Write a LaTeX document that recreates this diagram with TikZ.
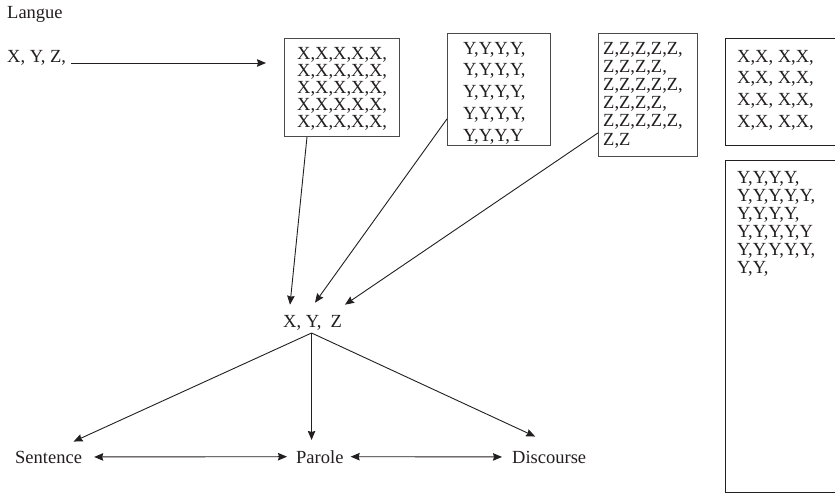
\documentclass[tikz,border=0pt]{standalone}
\usepackage{fontspec}
\setmainfont{Liberation Serif}
\usetikzlibrary{arrows.meta,calc}
\definecolor{ink}{HTML}{231F20}
\definecolor{frame}{HTML}{4A4A4A}
\begin{document}
\begin{tikzpicture}[x=1pt,y=-1pt,
  every node/.style={inner sep=0pt, text=ink, font=\fontsize{18.5}{21}\selectfont},
  box/.style={draw=frame, line width=0.9pt, inner sep=0pt, anchor=north west},
  heavybox/.style={draw=ink, line width=1.3pt, inner sep=0pt, anchor=north west},
  lines/.style={anchor=north west, align=left},
  tip/.style={Stealth[length=9pt,width=7.5pt,inset=1pt]},
  arr/.style={draw=ink, line width=0.9pt, -{Stealth[length=9pt,width=7.5pt,inset=1pt]}},
  dbl/.style={draw=ink, line width=0.9pt, {Stealth[length=9pt,width=7.5pt,inset=1pt]}-{Stealth[length=9pt,width=7.5pt,inset=1pt]}}]
\clip (0,0) rectangle (835,497);
\fill[white] (0,0) rectangle (835,497);

% headings on the left
\node[anchor=base west] (langue) at (7,19) {Langue};
\node[anchor=base west] (lbl) at (7,63) {X, Y, Z,};

% boxes of the top row
\node[box, minimum width=115pt, minimum height=98pt] (xbox) at (284,38) {};
\node[box, minimum width=103pt, minimum height=112pt] (ybox) at (447,33) {};
\node[box, minimum width=99pt, minimum height=123pt] (zbox) at (598,33) {};
\node[heavybox, minimum width=140pt, minimum height=107pt] (rxbox) at (725,38) {};
\node[heavybox, minimum width=140pt, minimum height=332pt] (rybox) at (725,160) {};

% box contents
\node[lines, font=\fontsize{18.5}{17}\selectfont] (xtext) at (297,46.8)
  {X,X,X,X,X,\\X,X,X,X,X,\\X,X,X,X,X,\\X,X,X,X,X,\\X,X,X,X,X,};
\node[lines, font=\fontsize{18.5}{21.75}\selectfont] (ytext) at (463,41.8)
  {Y,Y,Y,Y,\\Y,Y,Y,Y,\\Y,Y,Y,Y,\\Y,Y,Y,Y,\\Y,Y,Y,Y};
\node[lines, font=\fontsize{18.5}{18.2}\selectfont] (ztext) at (603,41.8)
  {Z,Z,Z,Z,Z,\\Z,Z,Z,Z,\\Z,Z,Z,Z,Z,\\Z,Z,Z,Z,\\Z,Z,Z,Z,Z,\\Z,Z};
\node[lines, font=\fontsize{18.5}{21.7}\selectfont] (rxtext) at (737,49.8)
  {X,X, X,X,\\X,X, X,X,\\X,X, X,X,\\X,X, X,X,};
\node[lines, font=\fontsize{18.5}{18}\selectfont] (rytext) at (737,170.8)
  {Y,Y,Y,Y,\\Y,Y,Y,Y,Y,\\Y,Y,Y,Y,\\Y,Y,Y,Y,Y\\Y,Y,Y,Y,Y,\\Y,Y,};

% arrow from the heading to the first box
\draw[arr] ($(lbl.base east)+(5,0)$) -- ($(lbl.base -| xbox.west)+(-18,0)$);

% combined node
\node[anchor=base west] (xyz) at (283,327) {X, Y,\ \ Z};
\draw[arr] ($(xbox.south west)+(23,0)$) -- ($(xyz.north west)+(7,-10)$);
\draw[arr] ($(ybox.south west)+(0,-27)$) -- ($(xyz.north west)+(32,-12)$);
\draw[arr] ($(zbox.south west)+(0,-24)$) -- ($(xyz.north west)+(62,-10)$);

% bottom row
\node[anchor=base west] (sent) at (15,463) {Sentence};
\node[anchor=base west] (parole) at (296,463) {Parole};
\node[anchor=base west] (disc) at (512,463) {Discourse};

\coordinate (apex) at ($(xyz.base)+(-1,6)$);
\coordinate (ptip) at ($(parole.north)+(0,-10)$);
\draw[arr] (apex) -- ($(sent.north)+(25,-9)$);
\draw[arr] (apex) -- (apex |- ptip);
\draw[arr] (apex) -- ($(disc.north)+(-14,-14)$);

\draw[dbl, shorten <=12pt, shorten >=9pt] (sent.east) -- (parole.west);
\draw[dbl, shorten <=7pt, shorten >=10pt] (parole.east) -- (disc.west);
\end{tikzpicture}
\end{document}
